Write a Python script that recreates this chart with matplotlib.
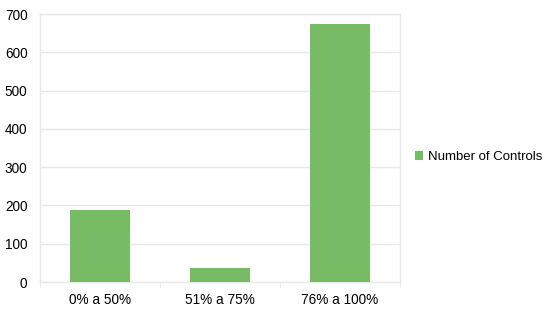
import matplotlib
matplotlib.use("Agg")
import matplotlib.pyplot as plt
from matplotlib.patches import Patch

categories = ["0% a 50%", "51% a 75%", "76% a 100%"]
controls = [188, 36, 675]
series_name = "Number of Controls"
y_ticks = [0, 100, 200, 300, 400, 500, 600, 700]

green = "#77bc65"
grid = "#e8e8e8"

plt.rcParams["font.family"] = ["Liberation Sans", "DejaVu Sans"]

fig = plt.figure(figsize=(5.5, 3.14), dpi=100)
ax = fig.add_axes([40 / 550, 1 - 282 / 314, 360 / 550, 268 / 314])

pos = list(range(len(categories)))
ax.bar(pos, controls, width=0.5, color=green, zorder=3)

ax.set_xlim(-0.5, len(categories) - 0.5)
ax.set_ylim(0, 700)
ax.set_yticks(y_ticks)
ax.set_xticks(pos)
ax.set_xticklabels(categories)
ax.set_xticks([p - 0.5 for p in pos] + [len(pos) - 0.5], minor=True)

ax.grid(axis="y", color=grid, linewidth=1, zorder=0)
for s in ax.spines.values():
    s.set_color(grid)
    s.set_linewidth(1)

ax.tick_params(axis="y", length=0, pad=9, labelsize=9.8, colors="black")
ax.tick_params(axis="x", which="major", length=0, pad=8, labelsize=9.8)
ax.tick_params(axis="x", which="minor", length=4, color=grid)

handles = [Patch(facecolor=green, label=series_name)]
fig.legend(handles=handles, loc="center left", bbox_to_anchor=(408 / 550, 1 - 157 / 314),
           frameon=False, fontsize=9.5, handlelength=0.6, handleheight=0.6,
           handletextpad=0.45, borderpad=0)

fig.savefig("out.png", dpi=100)
